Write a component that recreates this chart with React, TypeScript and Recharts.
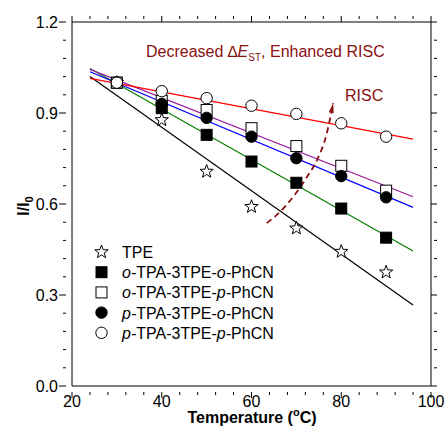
import { ComposedChart, Line, Scatter, XAxis, YAxis } from "recharts";

const FONT = "'Liberation Sans', Arial, sans-serif";
const DARK_RED = "#8b1010";

// measured points (I/I0 vs temperature)
const TEMPS = [30, 40, 50, 60, 70, 80, 90];
const TPE = [1.0, 0.877, 0.707, 0.591, 0.52, 0.443, 0.375];
const O_O = [1.0, 0.916, 0.828, 0.74, 0.67, 0.585, 0.489];
const O_P = [1.0, 0.94, 0.91, 0.85, 0.791, 0.726, 0.644];
const P_O = [1.0, 0.93, 0.884, 0.822, 0.751, 0.692, 0.622];
const P_P = [1.0, 0.972, 0.949, 0.924, 0.897, 0.866, 0.822];

// linear fit lines, drawn between these temperatures
const FIT_X = [24, 96];
const FIT_TPE = [1.02, 0.267];
const FIT_O_O = [1.047, 0.445];
const FIT_O_P = [1.044, 0.624];
const FIT_P_O = [1.036, 0.589];
const FIT_P_P = [1.014, 0.814];

// dashed "RISC" arrow
const ARROW_X = [63.4, 66.4, 69.3, 72.4, 74.6, 76.8, 78.2];
const ARROW_Y = [0.537, 0.575, 0.624, 0.69, 0.745, 0.834, 0.933];

const X_TICKS = [20, 24, 28, 32, 36, 40, 44, 48, 52, 56, 60, 64, 68, 72, 76, 80, 84, 88, 92, 96, 100];
const Y_TICKS = [0, 0.06, 0.12, 0.18, 0.24, 0.3, 0.36, 0.42, 0.48, 0.54, 0.6, 0.66, 0.72, 0.78, 0.84, 0.9, 0.96, 1.02, 1.08, 1.14, 1.2];

const LABELS = ["TPE", "o-TPA-3TPE-o-PhCN", "o-TPA-3TPE-p-PhCN", "p-TPA-3TPE-o-PhCN", "p-TPA-3TPE-p-PhCN"];

const pts = (xs: number[], ys: number[]) => xs.map((x, i) => ({ x, y: ys[i] }));

const isMajorX = (v: number) => v % 20 === 0;
const isMajorY = (v: number) => Math.abs(v / 0.3 - Math.round(v / 0.3)) < 1e-6;

function Star({ cx, cy }: { cx: number; cy: number }) {
  const p: string[] = [];
  for (let i = 0; i < 10; i++) {
    const r = i % 2 === 0 ? 7 : 2.9;
    const a = -Math.PI / 2 + (i * Math.PI) / 5;
    p.push(`${cx + r * Math.cos(a)},${cy + r * Math.sin(a)}`);
  }
  return <polygon points={p.join(" ")} fill="#fff" stroke="#000" strokeWidth={1} />;
}
const Square = ({ cx, cy, filled }: { cx: number; cy: number; filled: boolean }) => (
  <rect x={cx - 5.5} y={cy - 5.5} width={11} height={11} fill={filled ? "#000" : "#fff"} stroke="#000" />
);
const Circle = ({ cx, cy, filled }: { cx: number; cy: number; filled: boolean }) => (
  <circle cx={cx} cy={cy} r={5.7} fill={filled ? "#000" : "#fff"} stroke="#000" />
);

const SYMBOLS = [
  (cx: number, cy: number) => <Star cx={cx} cy={cy} />,
  (cx: number, cy: number) => <Square cx={cx} cy={cy} filled />,
  (cx: number, cy: number) => <Square cx={cx} cy={cy} filled={false} />,
  (cx: number, cy: number) => <Circle cx={cx} cy={cy} filled />,
  (cx: number, cy: number) => <Circle cx={cx} cy={cy} filled={false} />,
];

function label(text: string) {
  const parts = text.split("-");
  return parts.map((s, i) => (
    <tspan key={i} fontStyle={s === "o" || s === "p" ? "italic" : "normal"}>
      {s}
      {i < parts.length - 1 ? "-" : ""}
    </tspan>
  ));
}

const BottomTick = ({ x, y, payload }: any) => {
  const major = isMajorX(payload.value);
  return (
    <g>
      <line x1={x} y1={y} x2={x} y2={y + (major ? 6 : 3)} stroke="#000" />
      {major && (
        <text x={x} y={y + 15} textAnchor="middle" fontSize={16} fontFamily={FONT} fill="#000">
          {payload.value}
        </text>
      )}
    </g>
  );
};
const TopTick = ({ x, y, payload }: any) => (
  <line x1={x} y1={y} x2={x} y2={y + (isMajorX(payload.value) ? 6 : 3)} stroke="#000" />
);
const LeftTick = ({ x, y, payload }: any) => {
  const major = isMajorY(payload.value);
  return (
    <g>
      <line x1={x} y1={y} x2={x - (major ? 7 : 3)} y2={y} stroke="#000" />
      {major && (
        <text x={x - 8} y={y + 6} textAnchor="end" fontSize={16} fontFamily={FONT} fill="#000">
          {payload.value.toFixed(1)}
        </text>
      )}
    </g>
  );
};
const RightTick = ({ x, y, payload }: any) => (
  <line x1={x} y1={y} x2={x - (isMajorY(payload.value) ? 6 : 3)} y2={y} stroke="#000" />
);

const arrowDot = (props: any) => {
  const { cx, cy, index } = props;
  if (index !== ARROW_X.length - 1) return <g key={index} />;
  const ux = 0.196;
  const uy = -0.98;
  const bx = cx - ux * 10;
  const by = cy - uy * 10;
  return (
    <polygon
      key={index}
      points={`${cx},${cy} ${bx - uy * 2.5},${by + ux * 2.5} ${bx + uy * 2.5},${by - ux * 2.5}`}
      fill={DARK_RED}
    />
  );
};

const SERIES = [
  { data: TPE, fit: FIT_TPE, color: "#000000" },
  { data: O_O, fit: FIT_O_O, color: "#008000" },
  { data: O_P, fit: FIT_O_P, color: "#9a1e9e" },
  { data: P_O, fit: FIT_P_O, color: "#0000ff" },
  { data: P_P, fit: FIT_P_P, color: "#ff0000" },
];

export default function App() {
  return (
    <div style={{ width: 445, height: 435, overflow: "hidden", background: "#fff" }}>
      <style>{"body{margin:0}"}</style>
      <ComposedChart width={445} height={435} margin={{ top: 21, right: 13, bottom: 0, left: 0 }}>
        <XAxis
          xAxisId={0}
          type="number"
          dataKey="x"
          domain={[20, 100]}
          ticks={X_TICKS}
          interval={0}
          height={49}
          tickLine={false}
          tickMargin={0}
          tick={BottomTick}
          axisLine={{ stroke: "#000" }}
          allowDataOverflow
        />
        <XAxis
          xAxisId="top"
          orientation="top"
          type="number"
          dataKey="x"
          domain={[20, 100]}
          ticks={X_TICKS}
          interval={0}
          height={1}
          tickLine={false}
          tickMargin={0}
          tick={TopTick}
          axisLine={{ stroke: "#000" }}
          allowDataOverflow
        />
        <YAxis
          yAxisId={0}
          type="number"
          dataKey="y"
          domain={[0, 1.2]}
          ticks={Y_TICKS}
          interval={0}
          width={72}
          tickLine={false}
          tickMargin={0}
          tick={LeftTick}
          axisLine={{ stroke: "#000" }}
          allowDataOverflow
        />
        <YAxis
          yAxisId="r"
          orientation="right"
          type="number"
          dataKey="y"
          domain={[0, 1.2]}
          ticks={Y_TICKS}
          interval={0}
          width={1}
          tickLine={false}
          tickMargin={0}
          tick={RightTick}
          axisLine={{ stroke: "#000" }}
          allowDataOverflow
        />

        {SERIES.map((s, i) => (
          <Line
            key={`fit${i}`}
            data={pts(FIT_X, s.fit)}
            dataKey="y"
            type="linear"
            stroke={s.color}
            strokeWidth={1.2}
            dot={false}
            activeDot={false}
            isAnimationActive={false}
          />
        ))}
        <Line
          data={pts(ARROW_X, ARROW_Y)}
          dataKey="y"
          type="monotone"
          stroke={DARK_RED}
          strokeWidth={1.8}
          strokeDasharray="6 4"
          dot={arrowDot}
          activeDot={false}
          isAnimationActive={false}
        />
        {SERIES.map((s, i) => (
          <Scatter
            key={`pts${i}`}
            data={pts(TEMPS, s.data)}
            dataKey="y"
            shape={(p: any) => SYMBOLS[i](p.cx, p.cy)}
            isAnimationActive={false}
          />
        ))}
        {/* invisible series so the mirrored top/right frame axes get drawn */}
        <Scatter
          xAxisId="top"
          yAxisId="r"
          data={pts(FIT_X, FIT_P_P)}
          dataKey="y"
          shape={() => <g />}
          isAnimationActive={false}
        />

        <text x={146} y={57} fontSize={16} fontFamily={FONT} fill={DARK_RED}>
          Decreased ∆<tspan fontStyle="italic">E</tspan>
          <tspan fontSize={10} dy={4}>ST</tspan>
          <tspan dy={-4}>, Enhanced RISC</tspan>
        </text>
        <text x={345} y={101} fontSize={16} fontFamily={FONT} fill={DARK_RED}>
          RISC
        </text>

        {LABELS.map((t, i) => (
          <g key={t}>
            {SYMBOLS[i](101.5, 252 + i * 20.2)}
            <text x={122} y={252 + i * 20.2 + 6} fontSize={16} fontFamily={FONT} fill="#000">
              {label(t)}
            </text>
          </g>
        ))}

        <text x={252} y={423} textAnchor="middle" fontSize={16} fontWeight="bold" fontFamily={FONT} fill="#000">
          Temperature (<tspan fontSize={11} dy={-7}>o</tspan>
          <tspan dy={7}>C)</tspan>
        </text>
        <text
          transform="translate(29,206) rotate(-90)"
          textAnchor="middle"
          fontSize={16}
          fontWeight="bold"
          fontFamily={FONT}
          fill="#000"
        >
          I/I<tspan fontSize={11} dy={4}>0</tspan>
        </text>
      </ComposedChart>
    </div>
  );
}
